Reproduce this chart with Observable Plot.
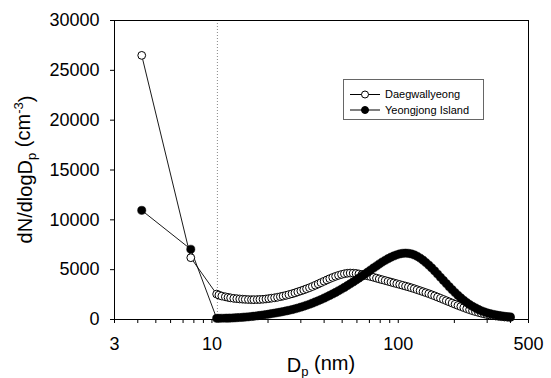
<!DOCTYPE html>
<html>
<head>
<meta charset="utf-8">
<script src="https://cdn.jsdelivr.net/npm/d3@7"></script>
<script src="https://cdn.jsdelivr.net/npm/@observablehq/plot@0.6"></script>
<style>
  html, body { margin: 0; padding: 0; background: #fff; }
  #chart { width: 551px; height: 378px; }
</style>
</head>
<body>
<div id="chart"></div>
<script>
// ---- data ----
const seriesNames = ["Daegwallyeong", "Yeongjong Island"];

// lower-size (nano counter) points
const nanoD = [4.2, 7.7];
const daegNano = [26500, 6200];
const yeongNano = [10950, 7050];

// SMPS channel diameters (nm)
const smpsD = [
  10.6, 10.9, 11.3, 11.8, 12.2, 12.6, 13.1, 13.6, 14.1, 14.6,
  15.1, 15.7, 16.3, 16.8, 17.5, 18.1, 18.8, 19.5, 20.2, 20.9,
  21.7, 22.5, 23.3, 24.1, 25.0, 25.9, 26.9, 27.9, 28.9, 30.0,
  31.1, 32.2, 33.4, 34.6, 35.9, 37.2, 38.5, 40.0, 41.4, 42.9,
  44.5, 46.1, 47.8, 49.6, 51.4, 53.3, 55.2, 57.3, 59.4, 61.5,
  63.8, 66.1, 68.5, 71.0, 73.7, 76.4, 79.1, 82.0, 85.1, 88.2,
  91.4, 94.7, 98.2, 101.8, 105.5, 109.4, 113.4, 117.6, 121.9, 126.3,
  131.0, 135.8, 140.7, 145.9, 151.2, 156.8, 162.5, 168.5, 174.7, 181.1,
  187.7, 194.6, 201.7, 209.1, 216.7, 224.7, 232.9, 241.4, 250.3, 259.5,
  269.0, 278.8, 289.0, 299.6, 310.6, 322.0, 333.8, 346.0, 358.7, 371.8,
  385.4, 399.5
];

const daegSmps = [
  2550, 2450, 2350, 2280, 2220, 2170, 2120, 2090, 2060, 2040,
  2020, 2000, 1990, 1990, 2000, 2010, 2030, 2060, 2100, 2140,
  2180, 2230, 2290, 2350, 2420, 2500, 2580, 2670, 2770, 2870,
  2970, 3080, 3190, 3310, 3440, 3570, 3700, 3840, 3970, 4100,
  4220, 4330, 4430, 4520, 4590, 4640, 4660, 4650, 4620, 4570,
  4510, 4450, 4380, 4310, 4230, 4150, 4070, 3990, 3910, 3830,
  3750, 3670, 3590, 3510, 3430, 3350, 3270, 3180, 3090, 2990,
  2890, 2790, 2690, 2590, 2480, 2370, 2250, 2130, 2010, 1890,
  1770, 1650, 1530, 1410, 1300, 1190, 1080, 980, 880, 790,
  710, 630, 560, 490, 440, 390, 350, 310, 280, 250,
  230, 210
];

const yeongSmps = [
  120, 120, 125, 130, 135, 145, 160, 180, 200, 220,
  245, 270, 300, 330, 370, 410, 450, 500, 540, 590,
  640, 690, 740, 800, 860, 920, 990, 1070, 1150, 1240,
  1330, 1430, 1530, 1640, 1760, 1880, 2000, 2140, 2280, 2420,
  2570, 2720, 2880, 3050, 3220, 3400, 3580, 3770, 3960, 4150,
  4350, 4550, 4750, 4960, 5170, 5370, 5570, 5760, 5940, 6100,
  6250, 6380, 6490, 6580, 6640, 6660, 6640, 6580, 6480, 6340,
  6160, 5950, 5710, 5450, 5170, 4870, 4560, 4240, 3920, 3600,
  3290, 2990, 2700, 2420, 2160, 1920, 1700, 1500, 1320, 1160,
  1010, 880, 770, 670, 590, 520, 460, 410, 360, 320,
  290, 260
];

const boundaryD = [10.7]; // dotted divider between instruments

const xTicks = [3, 4, 5, 6, 7, 8, 9, 10, 20, 30, 40, 50, 60, 70, 80, 90, 100, 200, 300, 400, 500];
const xTickLabels = [3, 10, 100, 500];
const yTicks = [0, 5000, 10000, 15000, 20000, 25000, 30000];

// ---- build rows ----
function rows(nanoVals, smpsVals) {
  const out = [];
  nanoD.forEach((d, i) => out.push({d, v: nanoVals[i]}));
  smpsD.forEach((d, i) => out.push({d, v: smpsVals[i]}));
  return out;
}
const daegRows = rows(daegNano, daegSmps);
const yeongRows = rows(yeongNano, yeongSmps);

const FONT = "'Liberation Sans', Arial, Helvetica, sans-serif";

const chart = Plot.plot({
  width: 551,
  height: 378,
  marginLeft: 114,
  marginRight: 23,
  marginTop: 20,
  marginBottom: 59,
  style: { fontFamily: FONT, fontSize: "18px", color: "#000", background: "#fff", overflow: "visible" },
  x: { type: "log", domain: [3, 500] },
  y: { domain: [0, 30000] },
  marks: [
    Plot.ruleX(boundaryD, { stroke: "#888", strokeWidth: 1, strokeDasharray: "1,2" }),
    Plot.line(daegRows, { x: "d", y: "v", stroke: "#000", strokeWidth: 0.9 }),
    Plot.line(yeongRows, { x: "d", y: "v", stroke: "#000", strokeWidth: 0.9 }),
    Plot.dot(daegRows, { x: "d", y: "v", r: 3.9, fill: "#fff", stroke: "#000", strokeWidth: 1 }),
    Plot.dot(yeongRows, { x: "d", y: "v", r: 4.1, fill: "#000", stroke: "#000", strokeWidth: 0.5 }),
    Plot.frame({ stroke: "#000", strokeWidth: 1 }),
    Plot.axisX({
      ticks: xTicks, tickSize: 4, tickPadding: 15, label: null,
      tickFormat: () => ""
    }),
    Plot.text(xTickLabels, {
      x: d => d, text: d => String(d), frameAnchor: "bottom", lineAnchor: "top",
      dy: 18, fontSize: 18, fill: "#000"
    }),
    Plot.axisY({
      ticks: yTicks, tickSize: 4, tickPadding: 11, label: null,
      tickFormat: d => String(d)
    })
  ]
});

document.getElementById("chart").appendChild(chart);

// ---- axis titles and legend ----
const svg = d3.select(chart);
const xs = chart.scale("x"), ys = chart.scale("y");
const [r0, r1] = xs.range;
const [yb, yt] = ys.range;

const xt = svg.append("text")
  .attr("x", (r0 + r1) / 2).attr("y", 372)
  .attr("text-anchor", "middle")
  .style("font-family", FONT).style("font-size", "20px").attr("fill", "#000");
xt.append("tspan").text("D");
xt.append("tspan").attr("dy", "0.3em").style("font-size", "13px").text("p");
xt.append("tspan").attr("dy", "-0.3em").text(" (nm)");

const yt2 = svg.append("text")
  .attr("transform", `translate(32,${(yb + yt) / 2}) rotate(-90)`)
  .attr("text-anchor", "middle")
  .style("font-family", FONT).style("font-size", "20px").attr("fill", "#000");
yt2.append("tspan").text("dN/dlogD");
yt2.append("tspan").attr("dy", "0.3em").style("font-size", "13px").text("p");
yt2.append("tspan").attr("dy", "-0.3em").text(" (cm");
yt2.append("tspan").attr("dy", "-0.5em").style("font-size", "13px").text("-3");
yt2.append("tspan").attr("dy", "0.5em").text(")");

// legend
const lg = svg.append("g").attr("text-anchor", "start");
lg.append("rect").attr("x", 343.5).attr("y", 79.5).attr("width", 140).attr("height", 40)
  .attr("fill", "#fff").attr("stroke", "#666").attr("stroke-width", 1);
const legendY = [94.5, 110];
seriesNames.forEach((name, i) => {
  const y = legendY[i];
  lg.append("line").attr("x1", 350).attr("x2", 380).attr("y1", y).attr("y2", y)
    .attr("stroke", "#000").attr("stroke-width", 1);
  lg.append("circle").attr("cx", 365).attr("cy", y).attr("r", 3.5)
    .attr("fill", i === 0 ? "#fff" : "#000").attr("stroke", "#000").attr("stroke-width", 1);
  lg.append("text").attr("x", 385).attr("y", y).attr("dy", "0.35em")
    .attr("text-anchor", "start")
    .style("font-family", FONT).style("font-size", "11px").attr("fill", "#000").text(name);
});
</script>
</body>
</html>
